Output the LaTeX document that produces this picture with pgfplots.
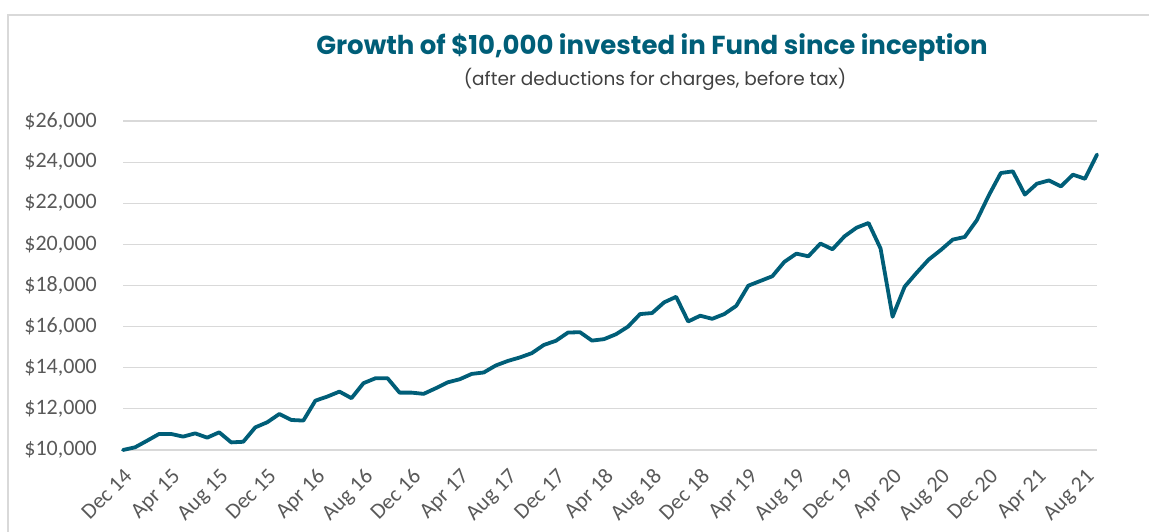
\documentclass[border=0pt]{standalone}
\usepackage{pgfplots}
\pgfplotsset{compat=1.18}
\usepackage{fontspec}
\setmainfont{Carlito}
\newfontfamily\titlefont{Poppins}
\definecolor{teal1}{RGB}{0,94,120}
\definecolor{gridc}{RGB}{217,217,217}
\definecolor{tickc}{RGB}{89,89,89}
\definecolor{subc}{RGB}{64,64,64}
\begin{document}
\begin{tikzpicture}[x=1pt,y=1pt]
\useasboundingbox (0,0) rectangle (1149,532);
\draw[gridc, line width=1.2pt] (8,0) -- (8,517) -- (1149,517);
\node[font=\titlefont\bfseries\fontsize{26}{30}\selectfont, text=teal1] at (652,484) {Growth of \$10,000 invested in Fund since inception};
\node[font=\titlefont\fontsize{18.5}{22}\selectfont, text=subc] at (655,453) {(after deductions for charges, before tax)};
\begin{axis}[
  at={(123pt,82pt)}, anchor=south west, scale only axis,
  width=974pt, height=329pt,
  xmin=0, xmax=81, ymin=10000, ymax=26000,
  scaled y ticks=false,
  ytick={10000,12000,...,26000},
  xtick={0,4,...,80},
  xticklabels={Dec 14,Apr 15,Aug 15,Dec 15,Apr 16,Aug 16,Dec 16,Apr 17,Aug 17,Dec 17,Apr 18,Aug 18,Dec 18,Apr 19,Aug 19,Dec 19,Apr 20,Aug 20,Dec 20,Apr 21,Aug 21},
  ymajorgrids, major grid style={gridc, line width=1.2pt},
  axis line style={draw=none}, major tick length=0pt,
  yticklabel={\$\pgfmathprintnumber[assume math mode=true,1000 sep={,}]{\tick}},
  yticklabel style={font=\fontsize{22}{24}\selectfont, text=tickc, anchor=east, inner sep=0pt, xshift=-26pt},
  xticklabel shift=17pt,
  xticklabel style={font=\fontsize{22}{24}\selectfont, text=tickc, rotate=45, anchor=north east, inner sep=0pt},
  clip=false,
]
\addplot[teal1, line width=3.8pt, line join=round, line cap=round] coordinates {
(0,10000)(1,10130)(2,10450)(3,10780)(4,10780)(5,10650)(6,10810)(7,10600)(8,10860)(9,10370)
(10,10400)(11,11100)(12,11350)(13,11750)(14,11460)(15,11430)(16,12400)(17,12600)(18,12840)(19,12520)
(20,13250)(21,13490)(22,13490)(23,12790)(24,12790)(25,12730)(26,13000)(27,13290)(28,13440)(29,13700)
(30,13770)(31,14110)(32,14330)(33,14500)(34,14710)(35,15110)(36,15310)(37,15710)(38,15730)(39,15320)
(40,15390)(41,15630)(42,16000)(43,16610)(44,16660)(45,17180)(46,17450)(47,16250)(48,16530)(49,16380)
(50,16610)(51,17010)(52,17990)(53,18220)(54,18450)(55,19150)(56,19550)(57,19420)(58,20040)(59,19760)
(60,20390)(61,20810)(62,21040)(63,19800)(64,16480)(65,17940)(66,18620)(67,19260)(68,19720)(69,20230)
(70,20360)(71,21170)(72,22380)(73,23470)(74,23550)(75,22420)(76,22950)(77,23110)(78,22820)(79,23390)
(80,23190)(81,24370)
};
\end{axis}
\end{tikzpicture}
\end{document}
